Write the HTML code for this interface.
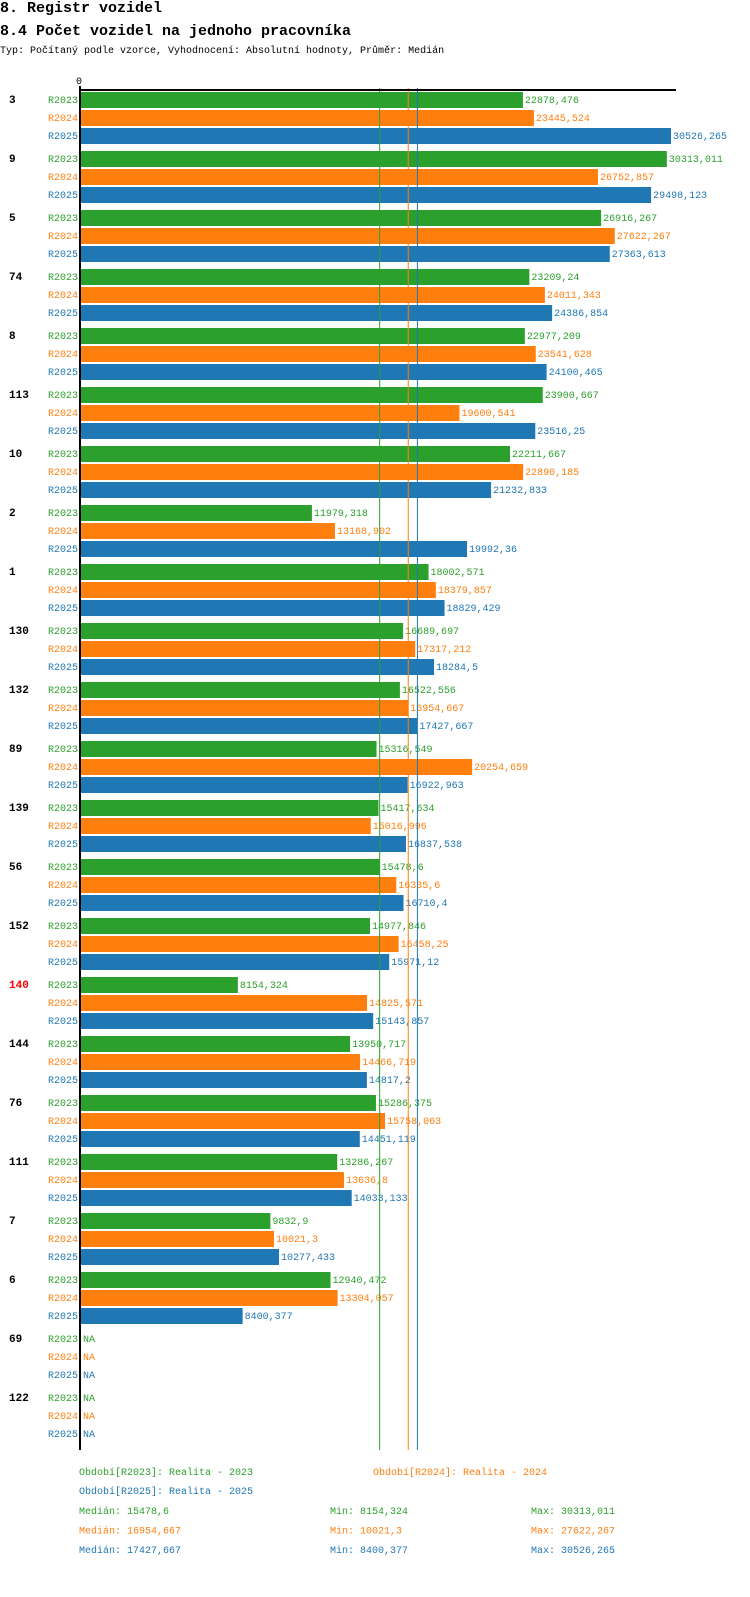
<!DOCTYPE html>
<html><head><meta charset="utf-8"><style>
body{margin:0;background:#fff;width:750px;height:1592px;overflow:hidden;font-family:"Liberation Mono",monospace}
</style></head><body>
<svg id="c" width="750" height="1592" xmlns="http://www.w3.org/2000/svg" font-family="Liberation Mono, monospace">
<text x="0" y="12" font-size="15" font-weight="bold">8. Registr vozidel</text>
<text x="0" y="35" font-size="15" font-weight="bold">8.4 Počet vozidel na jednoho pracovníka</text>
<text x="0" y="53" font-size="10">Typ: Počítaný podle vzorce, Vyhodnocení: Absolutní hodnoty, Průměr: Medián</text>
<text x="76" y="84" font-size="10">0</text>
<g id="g"></g>
</svg>
<script>
const categories=["3","9","5","74","8","113","10","2","1","130","132","89","139","56","152","140","144","76","111","7","6","69","122"];
const r2023=[22878.476,30313.011,26916.267,23209.24,22977.209,23900.667,22211.667,11979.318,18002.571,16689.697,16522.556,15316.549,15417.634,15478.6,14977.846,8154.324,13950.717,15286.375,13286.267,9832.9,12940.472,null,null];
const r2024=[23445.524,26752.857,27622.267,24011.343,23541.628,19600.541,22890.185,13168.902,18379.857,17317.212,16954.667,20254.659,15016.996,16335.6,16458.25,14825.571,14466.719,15758.063,13636.8,10021.3,13304.057,null,null];
const r2025=[30526.265,29498.123,27363.613,24386.854,24100.465,23516.25,21232.833,19992.36,18829.429,18284.5,17427.667,16922.963,16837.538,16710.4,15971.12,15143.857,14817.2,14451.119,14033.133,10277.433,8400.377,null,null];
const seriesNames=["R2023","R2024","R2025"];
const medians=[15478.6,16954.667,17427.667];
const mins=[8154.324,10021.3,8400.377];
const maxs=[30313.011,27622.267,30526.265];
const highlighted=["140"];
const colors=["#2ca02c","#ff7f0e","#1f77b4"];
const X0=80,SC=591/30526.265;
const xs=v=>X0+v*SC;
const gy=i=>91+i*59;
const NS="http://www.w3.org/2000/svg";
const G=document.getElementById('g');
function mk(t,a,txt){const e=document.createElementNS(NS,t);for(const k in a)e.setAttribute(k,a[k]);if(txt!=null)e.textContent=txt;G.appendChild(e);return e;}
const fmt=v=>String(v).replace('.',',');
const series=[r2023,r2024,r2025];
categories.forEach((c,i)=>{
  const y0=gy(i);
  const t=mk('text',{x:9,y:y0+12,'font-size':11,'font-weight':'bold',fill:highlighted.includes(c)?'#ff0000':'#000'},c);
  
  
  series.forEach((s,r)=>{
    const y=y0+r*18;
    const l=mk('text',{x:78,y:y+12,'font-size':10,'text-anchor':'end',fill:colors[r]},seriesNames[r]);
    
    
    const v=s[i];
    if(v==null){
      const n=mk('text',{x:83,y:y+12,'font-size':10,fill:colors[r]},'NA');
      
      
    }else{
      const b=mk('rect',{x:X0+1,y:y+1,width:xs(v)-X0-1,height:16,fill:colors[r]});
      
      
      const vl=mk('text',{x:xs(v)+2,y:y+12,'font-size':10,fill:colors[r]},fmt(v));
      
      
    }
  });
});
medians.forEach((m,r)=>{
  const ln=mk('line',{x1:xs(m),x2:xs(m),y1:88,y2:1450,stroke:colors[r],'stroke-width':1});
  
  
});
const ax=mk('line',{x1:80,x2:80,y1:86,y2:1450,stroke:'#000','stroke-width':2});


const hx=mk('line',{x1:79,x2:676,y1:90,y2:90,stroke:'#000','stroke-width':2});


const leg=[[79,1475,0],[373,1475,1],[79,1494,2]];
leg.forEach(([x,y,r])=>{
  const t=mk('text',{x:x,y:y,'font-size':10,fill:colors[r]},'Období['+seriesNames[r]+']: Realita - '+seriesNames[r].slice(1));
  
  
});
[0,1,2].forEach(r=>{
  const y=1514+r*19.5;
  const a=mk('text',{x:79,y:y,'font-size':10,fill:colors[r]},'Medián: '+fmt(medians[r]));
  
  
  const b=mk('text',{x:330,y:y,'font-size':10,fill:colors[r]},'Min: '+fmt(mins[r]));
  
  
  const d=mk('text',{x:531,y:y,'font-size':10,fill:colors[r]},'Max: '+fmt(maxs[r]));
  
  
});
</script>
</body></html>
